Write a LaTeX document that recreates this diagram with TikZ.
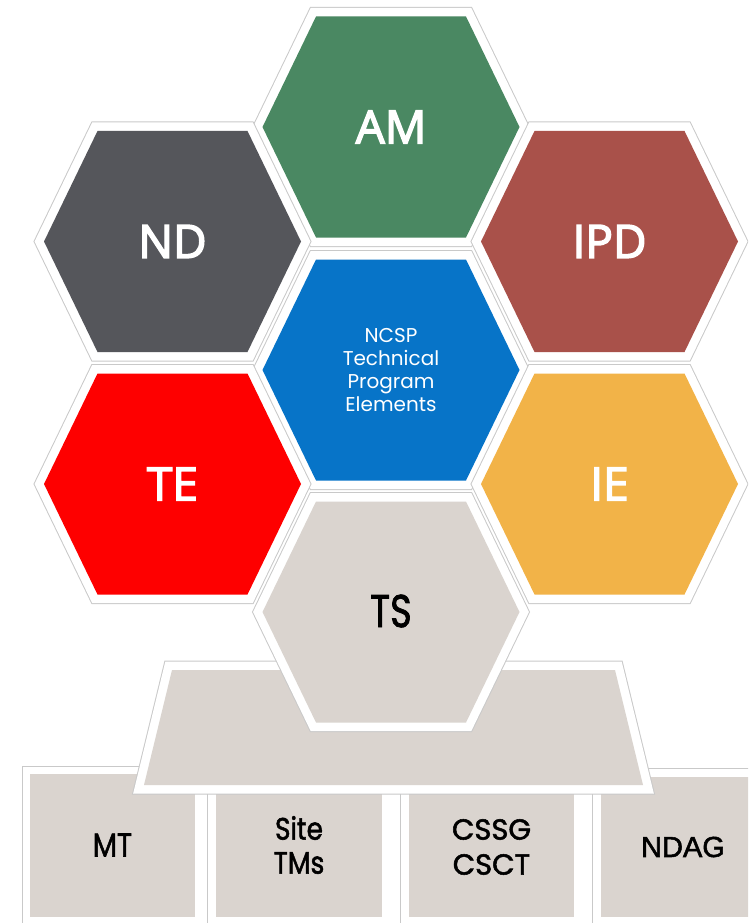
\documentclass[tikz,border=0pt]{standalone}
\usepackage{fontspec}
\setmainfont{Open Sans}
\newfontfamily\hexfont{Open Sans}[FakeBold=3.2]
\newfontfamily\geofont{Poppins}[FakeBold=1.8]
\newfontfamily\geolight{Poppins}
\newfontfamily\arialfont{Liberation Sans}[FakeBold=1.8]

\definecolor{rim}{HTML}{C9C9C9}
\definecolor{stone}{HTML}{DAD4CF}
\definecolor{amgreen}{HTML}{4A8862}
\definecolor{ndgray}{HTML}{55565B}
\definecolor{ipdred}{HTML}{A9514A}
\definecolor{coreblue}{HTML}{0774C8}
\definecolor{tered}{HTML}{FE0000}
\definecolor{ieorange}{HTML}{F2B348}

\tikzset{
  % white frame with a thin grey edge, stroked on the fill outline
  framed/.style={draw=rim, double=white, double distance=17pt, line width=1pt, line join=miter},
  boxframe/.style={draw=rim, fill=white, line width=1pt},
  biglabel/.style={inner sep=0pt, text=white, font=\hexfont\fontsize{46}{50}\selectfont},
  darklabel/.style={inner sep=0pt, text=black, align=center},
}

% flat-topped hexagon outline around the current origin
\newcommand{\hexoutline}{(-128.5,0) -- (-75,-110.5) -- (75,-110.5) -- (128.5,0) -- (75,110.5) -- (-75,110.5) -- cycle}

% #1 x, #2 y, #3 fill colour
\newcommand{\hexcell}[3]{%
  \begin{scope}[shift={(#1,#2)}]
    \path[framed] \hexoutline;
    \path[fill=#3] \hexoutline;
  \end{scope}}

\begin{document}
\begin{tikzpicture}[x=1pt, y=-1pt]
  \useasboundingbox (0,0) rectangle (748,923);
  \clip (0,0) rectangle (748,923);

  % --- bottom row of boxes ---
  \path[boxframe] (22,766) rectangle (207.7,934);
  \path[fill=stone] (30,774) rectangle (195,917);
  \path[boxframe] (207.7,766) rectangle (400.7,934);
  \path[fill=stone] (216,774) rectangle (382,917);
  \path[boxframe] (400.7,766) rectangle (592.7,934);
  \path[fill=stone] (409,774) rectangle (574,917);
  \path[boxframe] (592.7,768) rectangle (760,934);
  \path[fill=stone] (601,777) rectangle (760,917);

  \node[darklabel, font=\geofont\fontsize{33}{34}\selectfont] (mt) at (112.5,845)
    {\scalebox{0.85}[1]{MT}};
  \node[darklabel, font=\geofont\fontsize{31}{34}\selectfont] (site) at (299,845)
    {\scalebox{0.85}[1]{Site}\\\scalebox{0.85}[1]{TMs}};
  \node[darklabel, font=\geofont\fontsize{29}{35}\selectfont] (cssg) at (491.5,847)
    {CSSG\\CSCT};
  \node[darklabel, font=\arialfont\fontsize{29}{32}\selectfont] (ndag) at (683,847)
    {NDAG};

  % --- trapezoid base ---
  \path[framed] (172,670) -- (615,670) -- (643,785) -- (144,785) -- cycle;
  \path[fill=stone] (172,670) -- (615,670) -- (643,785) -- (144,785) -- cycle;
  \coordinate (base) at (393.5,727);

  % --- hexagon cluster ---
  \hexcell{391}{127}{amgreen}
  \hexcell{172.5}{241.5}{ndgray}
  \hexcell{609.5}{241.5}{ipdred}
  \hexcell{391}{370}{coreblue}
  \hexcell{172.5}{484}{tered}
  \hexcell{609.5}{484}{ieorange}
  \hexcell{391}{612}{stone}

  \node[biglabel] (am) at (391,127) {AM};
  \node[biglabel] (nd) at (172.5,241.5) {ND};
  \node[biglabel] (ipd) at (609.5,241.5) {IPD};
  \node[inner sep=0pt, text=white, align=center, font=\geolight\fontsize{20}{23}\selectfont] (core) at (391,370)
    {NCSP\\Technical\\Program\\Elements};
  \node[biglabel] (te) at (172.5,484) {TE};
  \node[biglabel] (ie) at (609.5,484) {IE};
  \node[darklabel, font=\geofont\fontsize{46}{50}\selectfont] (ts) at (391,611)
    {\scalebox{0.8}[1]{TS}};
\end{tikzpicture}
\end{document}
